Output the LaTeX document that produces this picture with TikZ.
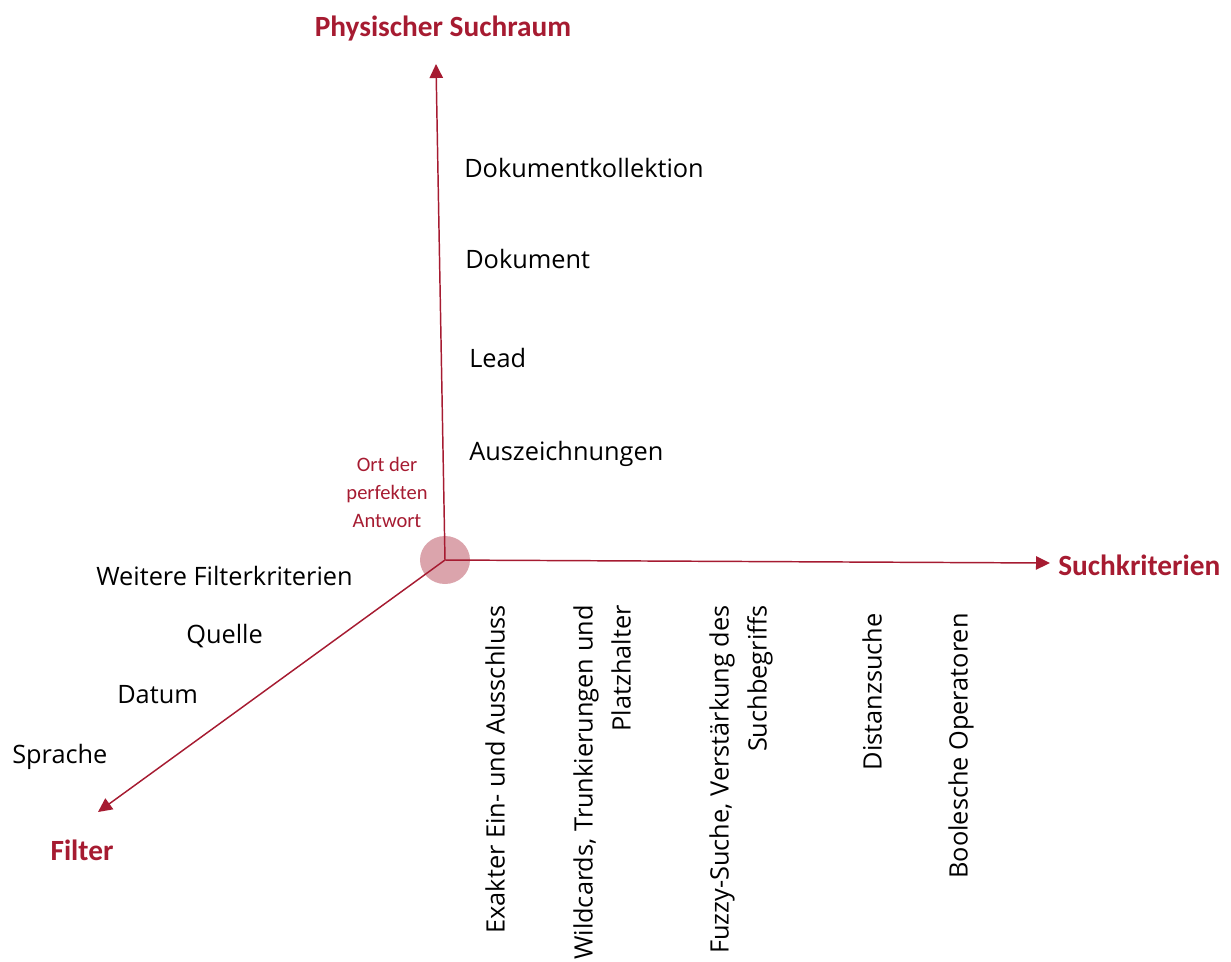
\documentclass[tikz,border=0pt]{standalone}
\usepackage{fontspec}
\setmainfont{Open Sans}
\newfontfamily\redfont{Carlito}
\usetikzlibrary{arrows.meta,shapes.geometric}
\definecolor{dred}{RGB}{166,27,49}
\definecolor{circfill}{RGB}{219,164,172}
\begin{document}
\begin{tikzpicture}[x=0.75pt,y=-0.75pt,
  axis/.style={draw=dred,line width=1.1pt,-{Triangle[length=10.5pt,width=10pt]}},
  lab/.style={font=\fontsize{19}{28.5}\selectfont,inner sep=0pt},
  ttl/.style={font=\redfont\bfseries\fontsize{22}{26}\selectfont,text=dred,inner sep=0pt},
  vlab/.style={lab,rotate=90,anchor=east,align=right}]
\useasboundingbox (0,0) rectangle (1231,961);

% origin marker
\node[ellipse, fill=circfill, minimum width=50*0.75pt, minimum height=48*0.75pt, inner sep=0pt] (circ) at (445,560) {};
\coordinate (o) at (445,560);
\coordinate (ytip) at (436,64);
\coordinate (xtip) at (1050,563);
\coordinate (ftip) at (98,812);

\draw[axis] (o) -- (ytip);
\draw[axis] (o) -- (xtip);
\draw[axis] (o) -- (ftip);

% axis titles
\node[ttl, anchor=base] (ttly) at (443,36) {Physischer Suchraum};
\node[ttl, anchor=base west] (ttlx) at (1058,575) {Suchkriterien};
\node[ttl, anchor=base] (ttlf) at (82,860) {Filter};

\node[font=\redfont\fontsize{15.4}{21}\selectfont, text=dred, align=center, inner sep=0pt] (ort) at (387,492) {Ort der\\perfekten\\Antwort};

% vertical axis labels
\node[lab, anchor=base west] (dk) at (464,177) {Dokumentkollektion};
\node[lab, anchor=base west] (dok) at (465,268) {Dokument};
\node[lab, anchor=base west] (lead) at (469,367) {Lead};
\node[lab, anchor=base west] (ausz) at (469,460) {Auszeichnungen};

% filter labels
\node[lab, anchor=base west] (wf) at (96,585) {Weitere Filterkriterien};
\node[lab, anchor=base west] (qu) at (186,643) {Quelle};
\node[lab, anchor=base west] (da) at (117,703) {Datum};
\node[lab, anchor=base west] (sp) at (12,763) {Sprache};

% search criteria labels
\node[vlab] (s1) at (495,605) {Exakter Ein- und Ausschluss};
\node[vlab] (s2) at (602,605) {Wildcards, Trunkierungen und\\Platzhalter};
\node[vlab] (s3) at (741,605) {Fuzzy-Suche, Verstärkung des\\Suchbegriffs};
\node[vlab] (s4) at (872,613) {Distanzsuche};
\node[vlab] (s5) at (961,613) {Boolesche Operatoren};
\end{tikzpicture}
\end{document}
